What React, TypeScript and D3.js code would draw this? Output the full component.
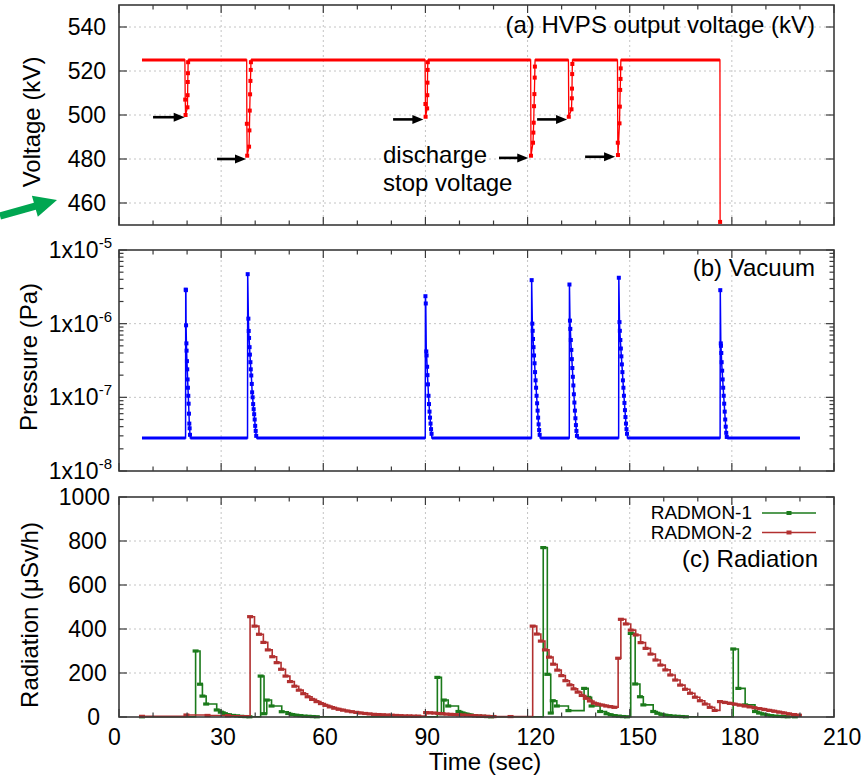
import React from 'react';
import * as d3 from 'd3';

type P = [number, number];

// ---------- tick values ----------
const xTickValues = [0, 30, 60, 90, 120, 150, 180, 210];
const voltTicks = [460, 480, 500, 520, 540];
const presTicks = [1e-8, 1e-7, 1e-6, 1e-5];
const presExp = ['-8', '-7', '-6', '-5'];
const radTicks = [0, 200, 400, 600, 800, 1000];

// ---------- (a) HVPS output voltage [sec, kV] ----------
const voltage: P[] = [
  [6.75, 525], [19.35, 525], [19.45, 507], [19.55, 500], [20.1, 503.5], [20.15, 509], [20.2, 515], [20.25, 519], [20.3, 524], [20.35, 525],
  [37.5, 525], [37.55, 496], [37.65, 481.5], [38.2, 485.6], [38.3, 493], [38.4, 502], [38.5, 509.4], [38.6, 515.5], [38.7, 520.5], [38.75, 524], [38.8, 525],
  [89.9, 525], [90.0, 505], [90.05, 499.2], [90.5, 503], [90.55, 509], [90.6, 514.7], [90.65, 520.5], [90.7, 524], [90.75, 525],
  [120.9, 525], [121.0, 481.5], [121.6, 487.4], [121.7, 492], [121.8, 496.5], [121.9, 504], [122.0, 509.5], [122.1, 517], [122.15, 522], [122.2, 525],
  [132.0, 525], [132.1, 499.2], [132.9, 502.6], [133.0, 507.6], [133.05, 512], [133.1, 518.6], [133.15, 523.2], [133.2, 525],
  [146.4, 525], [146.5, 487.4], [146.55, 481.8], [147.0, 496.2], [147.1, 503.8], [147.2, 511.4], [147.3, 516.4], [147.35, 521.2], [147.4, 525],
  [176.5, 525], [176.55, 451.4],
];

// discharge stop voltage arrows: [t start, t end, kV]
const stopArrows: [number, number, number][] = [
  [10.0, 19.3, 499],
  [28.8, 37.3, 480],
  [80.5, 89.4, 498],
  [111.6, 120.2, 480.5],
  [122.8, 131.6, 498],
  [136.9, 145.7, 481],
];

// ---------- (b) Vacuum pressure [sec, Pa] ----------
const pressure: P[] = [
  [6.75, 2.8e-8], [19.55, 2.8e-8],
  [19.6, 2.9e-6], [19.65, 2.85e-6], [19.7, 9.5e-7], [19.8, 5.4e-7], [19.85, 4.3e-7], [19.95, 3.1e-7], [20.05, 2.4e-7], [20.15, 1.75e-7], [20.25, 1.35e-7],
  [20.35, 1.05e-7], [20.45, 8.2e-8], [20.55, 6.0e-8], [20.65, 4.4e-8], [20.75, 3.8e-8], [20.85, 3.1e-8], [20.95, 2.8e-8],
  [37.75, 2.8e-8],
  [37.8, 4.7e-6], [38.0, 1.17e-6], [38.1, 7.96e-7], [38.2, 6.4e-7], [38.35, 4.8e-7], [38.45, 3.8e-7], [38.6, 3.0e-7], [38.7, 2.4e-7], [38.85, 1.98e-7],
  [39.0, 1.52e-7], [39.1, 1.17e-7], [39.25, 1.0e-7], [39.4, 8.1e-8], [39.55, 6.9e-8], [39.7, 5.9e-8], [39.85, 5.0e-8], [40.0, 4.1e-8], [40.15, 3.5e-8],
  [40.3, 3.0e-8], [40.45, 2.8e-8],
  [89.95, 2.8e-8],
  [90.0, 2.36e-6], [90.1, 1.88e-6], [90.25, 4.2e-7], [90.35, 3.7e-7], [90.5, 2.6e-7], [90.6, 2.0e-7], [90.75, 1.5e-7], [90.9, 1.05e-7], [91.05, 8.1e-8],
  [91.2, 6.4e-8], [91.35, 5.3e-8], [91.5, 4.4e-8], [91.65, 3.7e-8], [91.8, 3.2e-8], [91.9, 2.8e-8],
  [121.15, 2.8e-8],
  [121.2, 3.9e-6], [121.4, 1.0e-6], [121.5, 8.0e-7], [121.6, 6.2e-7], [121.75, 4.8e-7], [121.9, 3.7e-7], [122.05, 2.9e-7], [122.2, 2.2e-7], [122.35, 1.7e-7],
  [122.5, 1.35e-7], [122.65, 1.05e-7], [122.8, 8.3e-8], [122.95, 6.6e-8], [123.1, 5.3e-8], [123.25, 4.3e-8], [123.4, 3.6e-8], [123.55, 3.1e-8], [123.7, 2.8e-8],
  [132.25, 2.8e-8],
  [132.3, 3.4e-6], [132.45, 1.1e-6], [132.55, 8.5e-7], [132.7, 6.0e-7], [132.85, 4.4e-7], [133.0, 3.3e-7], [133.15, 2.5e-7], [133.3, 1.9e-7], [133.45, 1.45e-7],
  [133.6, 1.1e-7], [133.75, 8.5e-8], [133.9, 6.6e-8], [134.05, 5.2e-8], [134.2, 4.2e-8], [134.35, 3.5e-8], [134.5, 3.0e-8], [134.65, 2.8e-8],
  [146.75, 2.8e-8],
  [146.8, 4.2e-6], [147.0, 1.05e-6], [147.1, 8.0e-7], [147.25, 6.0e-7], [147.4, 4.6e-7], [147.55, 3.6e-7], [147.7, 2.8e-7], [147.85, 2.2e-7], [148.0, 1.7e-7],
  [148.15, 1.35e-7], [148.3, 1.05e-7], [148.45, 8.4e-8], [148.6, 6.7e-8], [148.75, 5.4e-8], [148.9, 4.4e-8], [149.05, 3.7e-8], [149.2, 3.2e-8], [149.35, 2.8e-8],
  [176.55, 2.8e-8],
  [176.6, 2.85e-6], [176.75, 5.4e-7], [176.8, 5.0e-7], [176.9, 4.0e-7], [177.0, 3.0e-7], [177.15, 2.3e-7], [177.3, 1.75e-7], [177.45, 1.35e-7], [177.6, 1.05e-7],
  [177.75, 8.2e-8], [177.9, 6.4e-8], [178.05, 5.0e-8], [178.2, 4.0e-8], [178.35, 3.3e-8], [178.5, 2.9e-8], [178.65, 2.8e-8],
  [200.0, 2.8e-8],
];

// ---------- (c) Radiation [sec, uSv/h] ----------
const radmon1: P[] = [
  [6.75, 1], [22.5, 300], [23.8, 149], [24.5, 95], [25.6, 59], [28.7, 32], [29.9, 22], [31.1, 15], [32.3, 10], [33.5, 7], [34.7, 5], [35.9, 3], [37.1, 2], [38.3, 1],
  [41.6, 186], [42.6, 15], [43.4, 77], [44.8, 50], [47.8, 24], [49.7, 16], [50.9, 11], [52.1, 8], [53.3, 6], [54.5, 4], [55.7, 3], [56.9, 2], [58.1, 1],
  [93.5, 180], [94.7, 15], [95.4, 77], [96.7, 50], [99.7, 25], [100.9, 18], [102.1, 13], [103.3, 9], [104.5, 6], [105.7, 4], [106.9, 3], [108.1, 2], [109.3, 1],
  [124.6, 770], [125.8, 194], [126.8, 18], [127.4, 74], [128.6, 50], [132.0, 29], [136.6, 130], [137.8, 89], [138.8, 50], [141.3, 25], [143.2, 15], [144.4, 10],
  [145.6, 6], [146.8, 4], [148.0, 2], [149.2, 1],
  [150.3, 380], [151.6, 150], [153.0, 92], [154.0, 55], [156.9, 25], [158.1, 17], [159.3, 12], [160.5, 8], [161.7, 6], [162.9, 4], [164.1, 3], [165.3, 2], [166.5, 1],
  [180.4, 309], [181.9, 130], [183.9, 55], [186.8, 25], [188.0, 18], [189.2, 13], [190.4, 9], [191.6, 6], [192.8, 4], [194.0, 3], [195.2, 2], [196.4, 1], [198.5, 1],
];

const radmon2: P[] = [
  [6.75, 3], [19.8, 9], [26.0, 7], [32.0, 6],
  [38.5, 456], [39.8, 413], [41.1, 376], [42.4, 339], [43.7, 305], [45.0, 274], [46.3, 247], [47.6, 217], [48.9, 186], [50.2, 161], [51.5, 140], [52.8, 122],
  [54.1, 106], [55.4, 92], [56.7, 80], [58.0, 70], [59.3, 61], [60.6, 53], [61.9, 46], [63.2, 40], [64.5, 35], [65.8, 31], [67.1, 27], [68.4, 24], [69.7, 21],
  [71.0, 18], [72.3, 16], [73.6, 14], [74.9, 12], [76.2, 11], [77.5, 10], [78.8, 9], [80.1, 8], [81.4, 7], [82.7, 6], [84.0, 5], [85.3, 5], [86.6, 4], [87.9, 4],
  [90.2, 20], [91.4, 19], [92.6, 18], [93.8, 16], [95.0, 15], [96.2, 13], [97.4, 12], [98.6, 11], [99.8, 10], [101.0, 9], [102.2, 8], [103.4, 7], [104.6, 6],
  [105.8, 5], [107.0, 4], [108.2, 3], [110.0, 2], [115.0, 2],
  [121.5, 413], [122.7, 377], [123.9, 345], [125.1, 305], [126.3, 272], [127.5, 240], [128.7, 213], [129.9, 188], [131.1, 165], [132.3, 146], [133.5, 128],
  [134.7, 113], [135.9, 98], [137.1, 85], [138.3, 73], [139.5, 63], [140.7, 58], [141.9, 54], [143.1, 50], [144.3, 47], [145.5, 44],
  [146.6, 267], [147.4, 444], [148.85, 423], [150.3, 395], [151.75, 373], [153.2, 338], [154.65, 312], [156.1, 286], [157.55, 259], [159.0, 236], [160.45, 214],
  [161.9, 191], [163.35, 168], [164.8, 145], [166.25, 126], [167.7, 108], [169.15, 90], [170.6, 74], [172.05, 59], [173.5, 44], [174.95, 30],
  [176.5, 70], [177.95, 66], [179.4, 62], [180.85, 58], [182.3, 54], [183.75, 50], [185.2, 46], [186.65, 42], [188.1, 38], [189.55, 34], [191.0, 30],
  [192.45, 26], [193.9, 22], [195.35, 18], [196.8, 14], [198.25, 11], [199.7, 8],
];

// ---------- layout ----------
const W = 865, H = 777;
const L = 119, R = 834;
const A = { top: 5, bottom: 225 };
const B = { top: 250, bottom: 471 };
const C = { top: 497, bottom: 717 };
const FONT = "'Liberation Sans', Arial, Helvetica, sans-serif";
const FRAME = '#3a3a3a';
const GRID = '#c4c4c4';
const RED = '#ff0000';
const BLUE = '#0000ff';
const GREEN = '#1b7a1b';
const BROWN = '#b23030';

const x = d3.scaleLinear().domain([0, 210]).range([L, R]);
const yV = d3.scaleLinear().domain([450, 550]).range([A.bottom, A.top]);
const yP = d3.scaleLog().domain([1e-8, 1e-5]).range([B.bottom, B.top]);
const yR = d3.scaleLinear().domain([0, 1000]).range([C.bottom, C.top]);

const xMinor = d3.range(0, 211, 10);

function Frame({ top, bottom, yScale, yMajor, yMinor }: { top: number; bottom: number; yScale: any; yMajor: number[]; yMinor: number[] }) {
  const els: React.ReactNode[] = [];
  xMinor.forEach((v, i) => {
    const major = v % 30 === 0;
    const len = major ? 8 : 4.5;
    const px = x(v);
    els.push(<line key={'xb' + i} x1={px} x2={px} y1={bottom} y2={bottom - len} stroke={FRAME} strokeWidth={1.2} />);
    els.push(<line key={'xt' + i} x1={px} x2={px} y1={top} y2={top + len} stroke={FRAME} strokeWidth={1.2} />);
  });
  yMajor.forEach((v, i) => {
    const py = yScale(v);
    els.push(<line key={'yl' + i} x1={L} x2={L + 8} y1={py} y2={py} stroke={FRAME} strokeWidth={1.2} />);
    els.push(<line key={'yr' + i} x1={R} x2={R - 8} y1={py} y2={py} stroke={FRAME} strokeWidth={1.2} />);
  });
  yMinor.forEach((v, i) => {
    const py = yScale(v);
    els.push(<line key={'ml' + i} x1={L} x2={L + 4.5} y1={py} y2={py} stroke={FRAME} strokeWidth={1.2} />);
    els.push(<line key={'mr' + i} x1={R} x2={R - 4.5} y1={py} y2={py} stroke={FRAME} strokeWidth={1.2} />);
  });
  return (
    <g>
      {els}
      <rect x={L} y={top} width={R - L} height={bottom - top} fill="none" stroke={FRAME} strokeWidth={1.6} />
    </g>
  );
}

function Grid({ top, bottom, yScale, yVals }: { top: number; bottom: number; yScale: any; yVals: number[] }) {
  return (
    <g stroke={GRID} strokeWidth={1} strokeDasharray="2,3">
      {xTickValues.filter((v) => v > 0 && v < 210).map((v) => (
        <line key={'gx' + v} x1={x(v)} x2={x(v)} y1={top} y2={bottom} />
      ))}
      {yVals.map((v, i) => (
        <line key={'gy' + i} x1={L} x2={R} y1={yScale(v)} y2={yScale(v)} />
      ))}
    </g>
  );
}

function flatSegments(data: P[], xs: (d: number) => number, ys: (d: number) => number) {
  const segs: React.ReactNode[] = [];
  for (let i = 0; i < data.length - 1; i++) {
    if (data[i][1] === data[i + 1][1]) {
      segs.push(<line key={'f' + i} x1={xs(data[i][0])} x2={xs(data[i + 1][0])} y1={ys(data[i][1])} y2={ys(data[i][1])} />);
    }
  }
  return segs;
}

function Arrow({ x1, x2, y, color, w, hl, hw }: { x1: number; x2: number; y: number; color: string; w: number; hl: number; hw: number }) {
  return (
    <g>
      <line x1={x1} x2={x2 - hl + 1} y1={y} y2={y} stroke={color} strokeWidth={w} />
      <path d={`M${x2},${y} L${x2 - hl},${y - hw} L${x2 - hl},${y + hw} Z`} fill={color} />
    </g>
  );
}

export default function App() {
  const vLine = d3.line<P>().x((d) => x(d[0])).y((d) => yV(d[1]));
  const pLine = d3.line<P>().x((d) => x(d[0])).y((d) => yP(d[1]));
  const rLine = d3.line<P>().x((d) => x(d[0])).y((d) => yR(d[1])).curve(d3.curveStepAfter);

  const presMinor: number[] = [];
  [1e-8, 1e-7, 1e-6].forEach((dec) => [2, 3, 4, 5, 6, 7, 8, 9].forEach((m) => presMinor.push(dec * m)));

  // green arrow geometry
  const gTail: P = [0, 216];
  const gTip: P = [57, 200];
  const dx = gTip[0] - gTail[0], dy = gTip[1] - gTail[1];
  const len = Math.hypot(dx, dy);
  const ux = dx / len, uy = dy / len, nx = -uy, ny = ux;
  const hb: P = [gTip[0] - 23 * ux, gTip[1] - 23 * uy];
  const sw = 3.6, hw = 11;
  const gPoly = [
    [gTail[0] + nx * sw, gTail[1] + ny * sw],
    [hb[0] + nx * sw, hb[1] + ny * sw],
    [hb[0] + nx * hw, hb[1] + ny * hw],
    gTip,
    [hb[0] - nx * hw, hb[1] - ny * hw],
    [hb[0] - nx * sw, hb[1] - ny * sw],
    [gTail[0] - nx * sw, gTail[1] - ny * sw],
  ].map((p) => p.join(',')).join(' ');

  const tickFont = 23;

  return (
    <svg width={W} height={H} viewBox={`0 0 ${W} ${H}`} style={{ position: 'absolute', left: 0, top: 0, background: '#fff' }} fontFamily={FONT}>
      <rect x={0} y={0} width={W} height={H} fill="#fff" />

      {/* grids */}
      <Grid top={A.top} bottom={A.bottom} yScale={yV} yVals={voltTicks} />
      <Grid top={B.top} bottom={B.bottom} yScale={yP} yVals={[1e-7, 1e-6]} />
      <Grid top={C.top} bottom={C.bottom} yScale={yR} yVals={[200, 400, 600, 800]} />

      {/* (a) voltage */}
      <g stroke={RED} strokeWidth={3}>{flatSegments(voltage, x, yV)}</g>
      <path d={vLine(voltage) || ''} fill="none" stroke={RED} strokeWidth={1.3} />
      <g fill={RED}>
        {voltage.filter((d) => d[1] < 525).map((d, i) => (
          <rect key={i} x={x(d[0]) - 2} y={yV(d[1]) - 2} width={4} height={4} />
        ))}
      </g>
      {stopArrows.map((a, i) => (
        <Arrow key={i} x1={x(a[0])} x2={x(a[1])} y={yV(a[2])} color="#000" w={2.6} hl={11} hw={4.5} />
      ))}

      {/* (b) pressure */}
      <g stroke={BLUE} strokeWidth={3}>{flatSegments(pressure, x, yP)}</g>
      <path d={pLine(pressure) || ''} fill="none" stroke={BLUE} strokeWidth={1.5} />
      <g fill={BLUE}>
        {pressure.filter((d) => d[1] > 2.85e-8).map((d, i) => (
          <rect key={i} x={x(d[0]) - 2} y={yP(d[1]) - 2} width={4} height={4} />
        ))}
      </g>

      {/* (c) radiation */}
      <path d={rLine(radmon1) || ''} fill="none" stroke={GREEN} strokeWidth={1.6} />
      <g fill={GREEN}>
        {radmon1.map((d, i) => (
          <rect key={i} x={x(d[0]) - 3} y={yR(d[1]) - 1.6} width={6} height={3.2} />
        ))}
      </g>
      <path d={rLine(radmon2) || ''} fill="none" stroke={BROWN} strokeWidth={1.6} />
      <g fill={BROWN}>
        {radmon2.map((d, i) => (
          <rect key={i} x={x(d[0]) - 3} y={yR(d[1]) - 1.6} width={6} height={3.2} />
        ))}
      </g>

      {/* frames & ticks */}
      <Frame top={A.top} bottom={A.bottom} yScale={yV} yMajor={voltTicks} yMinor={[]} />
      <Frame top={B.top} bottom={B.bottom} yScale={yP} yMajor={presTicks} yMinor={presMinor} />
      <Frame top={C.top} bottom={C.bottom} yScale={yR} yMajor={radTicks} yMinor={[]} />

      {/* y tick labels */}
      <g fontSize={tickFont} textAnchor="end" fill="#000">
        {voltTicks.map((v) => (
          <text key={v} x={106} y={yV(v) + 8}>{v}</text>
        ))}
        {radTicks.map((v) => (
          <text key={v} x={110 - (4 - String(v).length) * 3.3} y={yR(v) + 8}>{v}</text>
        ))}
        {presTicks.map((v, i) => (
          <text key={i} x={112} y={yP(v) + 8}>
            1x10<tspan fontSize={15} dy={-10}>{presExp[i]}</tspan>
          </text>
        ))}
      </g>

      {/* x tick labels */}
      <g fontSize={tickFont} textAnchor="start" fill="#000">
        {xTickValues.map((v) => (
          <text key={v} x={x(v) - 11} y={745}>{v}</text>
        ))}
      </g>

      {/* axis titles */}
      <g fontSize={24} fill="#000" textAnchor="middle">
        <text transform="translate(40,122) rotate(-90)">Voltage (kV)</text>
        <text transform="translate(37,357) rotate(-90)">Pressure (Pa)</text>
        <text transform="translate(38,615) rotate(-90)">Radiation (μSv/h)</text>
        <text x={485} y={770}>Time (sec)</text>
      </g>

      {/* panel titles */}
      <g fontSize={24} fill="#000" textAnchor="end">
        <text x={815} y={33}>(a) HVPS output voltage (kV)</text>
        <text x={815} y={276}>(b) Vacuum</text>
        <text x={818} y={567}>(c) Radiation</text>
      </g>

      {/* annotation */}
      <g fontSize={24} fill="#000">
        <text x={383} y={163}>discharge</text>
        <text x={383} y={191}>stop voltage</text>
      </g>

      {/* legend */}
      <g fontSize={19} fill="#000" textAnchor="end">
        <text x={752} y={519}>RADMON-1</text>
        <text x={752} y={539}>RADMON-2</text>
      </g>
      <line x1={762} x2={816} y1={513} y2={513} stroke={GREEN} strokeWidth={1.6} />
      <rect x={786.5} y={511} width={5} height={4} fill={GREEN} />
      <line x1={762} x2={816} y1={532.5} y2={532.5} stroke={BROWN} strokeWidth={1.6} />
      <rect x={786.5} y={530.5} width={5} height={4} fill={BROWN} />

      {/* green arrow */}
      <polygon points={gPoly} fill="#00a651" />
    </svg>
  );
}
